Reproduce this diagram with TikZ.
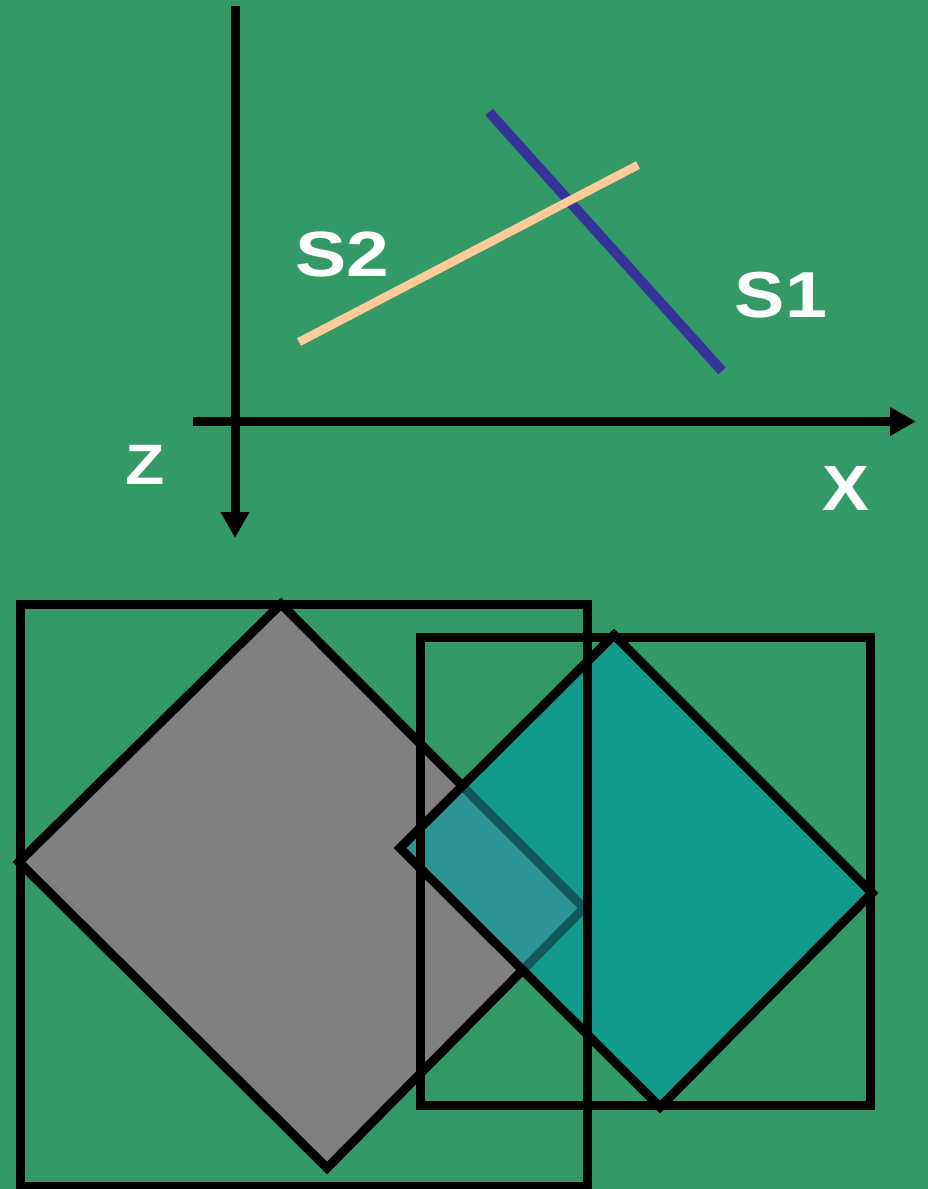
\documentclass[tikz,border=0pt]{standalone}
\usepackage{fontspec}
\setmainfont{Liberation Sans}
\usetikzlibrary{arrows.meta}
\definecolor{bg}{RGB}{51,153,102}
\definecolor{sone}{RGB}{51,51,153}
\definecolor{stwo}{RGB}{255,204,153}
\definecolor{grayfill}{RGB}{128,128,128}
\definecolor{tealfill}{RGB}{18,154,138}
\definecolor{overlap}{RGB}{44,148,150}
\definecolor{hidden}{RGB}{18,88,90}
\tikzset{
  axis/.style={line width=9pt, -{Triangle[length=26pt,width=27pt]}},
  frame/.style={line width=9pt, draw=black, line join=miter},
  lbl/.style={text=white, font=\bfseries, inner sep=0pt, anchor=center},
}
\begin{document}
\begin{tikzpicture}[x=1pt,y=-1pt]
\useasboundingbox (0,0) rectangle (928,1189);
\fill[bg] (0,0) rectangle (928,1189);
% axes
\coordinate (zs) at (235,6);
\coordinate (ze) at (235,538);
\coordinate (xs) at (193,421.5);
\coordinate (xe) at (916,421.5);
\draw[axis] (zs) -- (ze);
\draw[axis] (xs) -- (xe);
% lines
\coordinate (s1a) at (489,112);
\coordinate (s1b) at (722,371);
\coordinate (s2a) at (299,342);
\coordinate (s2b) at (638,165);
\draw[sone, line width=10pt] (s1a) -- (s1b);
\draw[stwo, line width=8.5pt] (s2a) -- (s2b);
% labels
\node[lbl, xscale=1.2] (S2) at (342,254) {\fontsize{64}{64}\selectfont S2};
\node[lbl, xscale=1.16] (S1) at (781,295) {\fontsize{65}{65}\selectfont S1};
\node[lbl, xscale=1.13] (Z) at (145,465) {\fontsize{57}{57}\selectfont Z};
\node[lbl, xscale=1.1] (X) at (846,488) {\fontsize{64}{64}\selectfont X};
% diamonds
\coordinate (gt) at (281,604);
\coordinate (gr) at (584,908);
\coordinate (gb) at (327,1168);
\coordinate (gl) at (19,862);
\coordinate (tt) at (614,635);
\coordinate (tr) at (872,893);
\coordinate (tb) at (660,1107);
\coordinate (tl) at (400,848);
\fill[grayfill] (gt) -- (gr) -- (gb) -- (gl) -- cycle;
\draw[frame] (gt) -- (gr) -- (gb) -- (gl) -- cycle;
\fill[tealfill] (tt) -- (tr) -- (tb) -- (tl) -- cycle;
\begin{scope}
  \clip (tt) -- (tr) -- (tb) -- (tl) -- cycle;
  \fill[overlap] (gt) -- (gr) -- (gb) -- (gl) -- cycle;
  \draw[line width=9pt, draw=hidden] (gt) -- (gr) -- (gb) -- (gl) -- cycle;
\end{scope}
\draw[frame] (tt) -- (tr) -- (tb) -- (tl) -- cycle;
% frames
\draw[frame] (20,604) rectangle (587,1186);
\draw[frame] (420,637) rectangle (870,1105);
\end{tikzpicture}
\end{document}
